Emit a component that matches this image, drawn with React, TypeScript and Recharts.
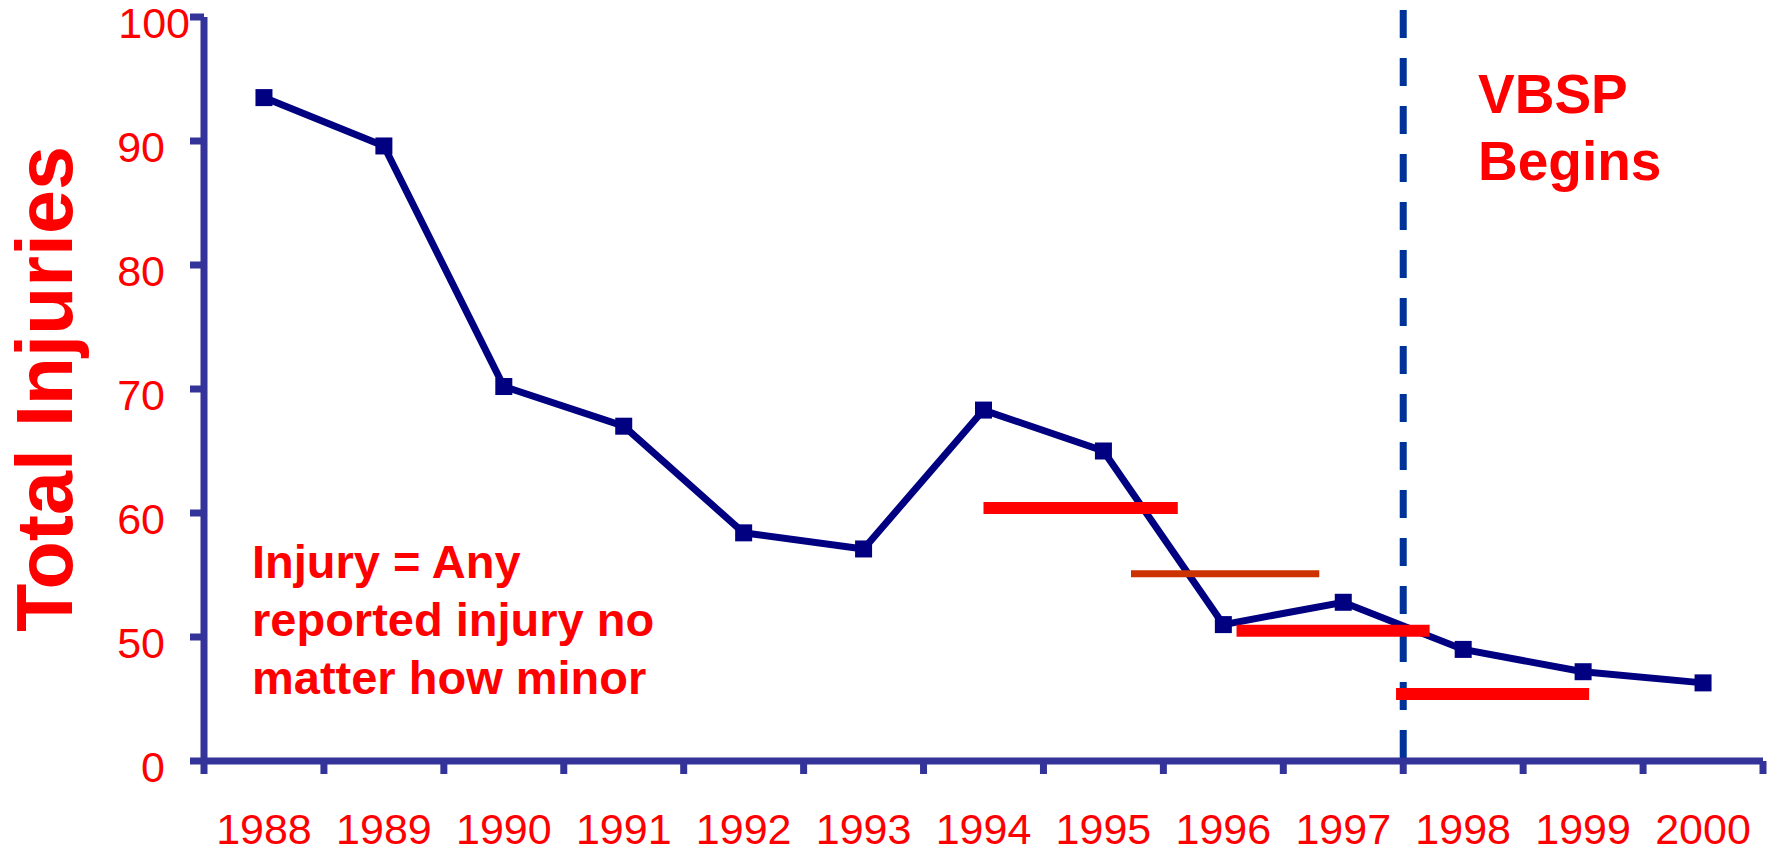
import { LineChart, Line, XAxis, YAxis, ReferenceLine } from "recharts";

const FONT = "'Liberation Sans', Arial, sans-serif";
const RED = "#ff0000";
const AXIS = "#333399";
const NAVY = "#000080";

// yearly totals
const years = ["1988", "1989", "1990", "1991", "1992", "1993", "1994", "1995", "1996", "1997", "1998", "1999", "2000"];
const injuries = [93.5, 89.6, 70.2, 67.0, 58.4, 57.1, 68.3, 65.0, 51.0, 52.8, 49.0, 47.2, 46.3];

// broken y axis: the bottom tick is labelled 0
const yTicks = [40, 50, 60, 70, 80, 90, 100];
const yTickLabels = ["0", "50", "60", "70", "80", "90", "100"];

// red level bars (band position start/end, level)
const barStarts = [6.5, 7.73, 8.61, 9.94];
const barEnds = [8.12, 9.3, 10.22, 11.55];
const barLevels = [60.4, 55.1, 50.5, 45.4];
const barColors = [RED, "#cc3300", RED, RED];
const barWidths = [12, 7, 12, 12];

// VBSP start, between 1997 and 1998
const programStart = 10;
const programLineTop = 100.56;

const data = years.map((year, i) => ({ pos: i + 0.5, year, injuries: injuries[i] }));
// year boundaries get a tick mark, band centres get the year label
const xTicks: number[] = [];
for (let i = 0; i <= years.length; i++) {
  xTicks.push(i);
  if (i < years.length) xTicks.push(i + 0.5);
}

function YTick({ x, y, payload }: any) {
  const label = yTickLabels[yTicks.indexOf(payload.value)];
  // the "100" label sits further right in the original
  const tx = payload.value === 100 ? x + 25 : x;
  return (
    <text x={tx} y={y + 21} textAnchor="end" fill={RED} fontSize={43} fontFamily={FONT}>
      {label}
    </text>
  );
}

function XTick({ x, y, payload }: any) {
  const v = payload.value;
  if (Number.isInteger(v)) {
    return <line x1={x} x2={x} y1={y} y2={y + 13} stroke={AXIS} strokeWidth={7} />;
  }
  return (
    <text x={x} y={y + 83} textAnchor="middle" fill={RED} fontSize={43} fontFamily={FONT}>
      {years[Math.floor(v)]}
    </text>
  );
}

function SquareDot(props: any) {
  const { cx, cy, index } = props;
  return <rect key={`dot-${index}`} x={cx - 8.5} y={cy - 8.5} width={17} height={17} fill={NAVY} />;
}

export default function App() {
  return (
    <div style={{ position: "absolute", left: 0, top: 0, background: "#fff" }}>
      <LineChart width={1769} height={853} data={data} margin={{ top: 17, right: 6, left: 0, bottom: 0 }}>
        <XAxis
          type="number"
          dataKey="pos"
          domain={[0, 13]}
          ticks={xTicks}
          interval={0}
          height={92}
          tickSize={0}
          tickMargin={0}
          axisLine={{ stroke: AXIS, strokeWidth: 7 }}
          tickLine={false}
          tick={XTick}
        />
        <YAxis
          type="number"
          domain={[40, 100]}
          ticks={yTicks}
          interval={0}
          width={204}
          tickSize={14}
          tickMargin={25}
          axisLine={{ stroke: AXIS, strokeWidth: 7 }}
          tickLine={{ stroke: AXIS, strokeWidth: 7 }}
          tick={YTick}
        />

        <ReferenceLine
          segment={[
            { x: programStart, y: programLineTop },
            { x: programStart, y: 40 },
          ]}
          stroke="#003399"
          strokeWidth={7}
          strokeDasharray="28 20"
          ifOverflow="visible"
        />

        <Line
          type="linear"
          dataKey="injuries"
          stroke={NAVY}
          strokeWidth={7}
          dot={SquareDot}
          activeDot={false}
          isAnimationActive={false}
        />

        {barLevels.map((level, i) => (
          <ReferenceLine
            key={`bar-${i}`}
            segment={[
              { x: barStarts[i], y: level },
              { x: barEnds[i], y: level },
            ]}
            stroke={barColors[i]}
            strokeWidth={barWidths[i]}
            ifOverflow="visible"
          />
        ))}

        <text
          x={72}
          y={389}
          transform="rotate(-90, 72, 389)"
          textAnchor="middle"
          fill={RED}
          fontSize={79}
          fontWeight="bold"
          fontFamily={FONT}
        >
          Total Injuries
        </text>

        <text fill={RED} fontSize={47} fontWeight="bold" fontFamily={FONT}>
          <tspan x={252} y={578}>Injury = Any</tspan>
          <tspan x={252} y={636}>reported injury no</tspan>
          <tspan x={252} y={694}>matter how minor</tspan>
        </text>

        <text fill={RED} fontSize={55} fontWeight="bold" fontFamily={FONT}>
          <tspan x={1478} y={113}>VBSP</tspan>
          <tspan x={1478} y={180}>Begins</tspan>
        </text>
      </LineChart>
    </div>
  );
}
